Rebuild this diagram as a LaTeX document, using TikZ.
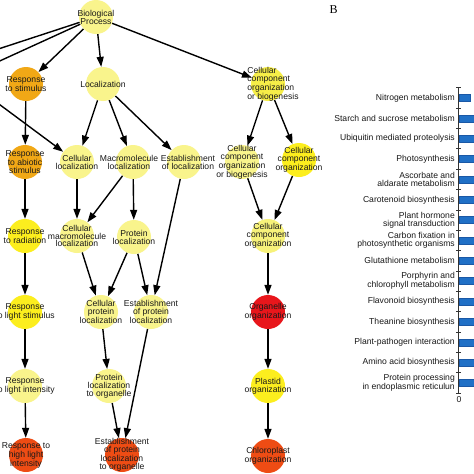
\documentclass[tikz,border=0pt]{standalone}
\usepackage{fontspec}
\setmainfont{Liberation Sans}
\newfontfamily\serifB{Liberation Serif}
\usetikzlibrary{arrows.meta}
\definecolor{pale}{HTML}{F9F48C}
\definecolor{bright}{HTML}{FCEE1E}
\definecolor{midy}{HTML}{F6EE48}
\definecolor{paley}{HTML}{F7F27A}
\definecolor{orng}{HTML}{F1A816}
\definecolor{redn}{HTML}{E8161B}
\definecolor{redor}{HTML}{EE4C14}
\definecolor{barblue}{HTML}{2070C6}
\definecolor{bardark}{HTML}{1A58A6}
\pgfdeclarelayer{back}
\pgfdeclarelayer{bg}
\pgfsetlayers{back,bg,main}
\begin{document}
\begin{tikzpicture}[x=1pt,y=-1pt,
  go/.style={circle,minimum size=34pt,inner sep=0pt,draw=none},
  lbl/.style={font=\fontsize{8.6}{7.9}\selectfont,align=center,text=black!90,inner sep=0pt},
  edge/.style={-{Triangle[length=10pt,width=7pt]},line width=1.4pt,black},
  cat/.style={font=\fontsize{8.6}{7.6}\selectfont,align=right,anchor=east,text=black!90,inner sep=0pt},
  bar/.style={fill=barblue,draw=bardark,line width=0.6pt},
  axisline/.style={line width=0.8pt,black!80}]
\useasboundingbox (0,0) rectangle (474,474);
\begin{pgfonlayer}{back}
\fill[white] (0,0) rectangle (474,474);
\end{pgfonlayer}

% ---- panel A: GO graph ----
\node[go,fill=pale,label={[lbl]center:{Biological\\Process}}] (bp) at (96,17) {};
\node[go,fill=orng,label={[lbl]center:{Response\\to stimulus}}] (rs) at (26,84) {};
\node[go,fill=pale,label={[lbl]center:{Localization}}] (loc) at (103,84) {};
\node[go,fill=midy,label={[lbl,align=left,xshift=5pt]center:{Cellular\\component\\organization\\or biogenesis}}] (ccoba) at (268,84) {};

\node[go,fill=orng,label={[lbl]center:{Response\\to abiotic\\stimulus}}] (ras) at (25,162) {};
\node[go,fill=pale,label={[lbl]center:{Cellular\\localization}}] (cl) at (77,162) {};
\node[go,fill=pale,label={[lbl,xshift=-4pt]center:{Macromolecule\\localization}}] (ml) at (133,162) {};
\node[go,fill=pale,label={[lbl,xshift=4pt]center:{Establishment\\of localization}}] (el) at (184,162) {};
\node[go,fill=pale,label={[lbl]center:{Cellular\\component\\organization\\or biogenesis}}] (ccobb) at (242,162) {};
\node[go,fill=bright,label={[lbl]center:{Cellular\\component\\organization}}] (cco) at (299,160) {};

\node[go,fill=bright,label={[lbl]center:{Response\\to radiation}}] (rr) at (25,236) {};
\node[go,fill=pale,label={[lbl]center:{Cellular\\macromolecule\\localization}}] (cml) at (77,236) {};
\node[go,fill=pale,label={[lbl]center:{Protein\\localization}}] (pl) at (134,237) {};
\node[go,fill=paley,label={[lbl]center:{Cellular\\component\\organization}}] (ccoc) at (268,236) {};

\node[go,fill=bright,label={[lbl]center:{Response\\to light stimulus}}] (rls) at (25,312) {};
\node[go,fill=pale,label={[lbl]center:{Cellular\\protein\\localization}}] (cpl) at (101,312) {};
\node[go,fill=pale,label={[lbl]center:{Establishment\\of protein\\localization}}] (epl) at (151,312) {};
\node[go,fill=redn,label={[lbl]center:{Organelle\\organization}}] (oo) at (268,312) {};

\node[go,fill=pale,label={[lbl]center:{Response\\to light intensity}}] (rli) at (25,386) {};
\node[go,fill=pale,label={[lbl]center:{Protein\\localization\\to organelle}}] (plo) at (109,386) {};
\node[go,fill=bright,label={[lbl]center:{Plastid\\organization}}] (po) at (268,386) {};

\node[go,fill=redor,label={[lbl]center:{Response to\\high light\\intensity}}] (rhli) at (26,455) {};
\node[go,fill=redor,label={[lbl]center:{Establishment\\of protein\\localization\\to organelle}}] (eplo) at (122,455) {};
\node[go,fill=redor,label={[lbl]center:{Chloroplast\\organization}}] (co) at (268,456) {};

\coordinate (offa) at (-20,55);
\coordinate (offb) at (-20,70);
\coordinate (offc) at (-20,90);

\begin{pgfonlayer}{bg}
\draw[edge] (bp) -- (offa);
\draw[edge] (bp) -- (offb);
\draw[edge] (offc) -- (cl);
\draw[edge] (bp) -- (rs);
\draw[edge] (bp) -- (loc);
\draw[edge] (bp) -- (ccoba);
\draw[edge] (loc) -- (cl);
\draw[edge] (loc) -- (ml);
\draw[edge] (loc) -- (el);
\draw[edge] (rs) -- (ras);
\draw[edge] (ras) -- (rr);
\draw[edge] (rr) -- (rls);
\draw[edge] (rls) -- (rli);
\draw[edge] (rli) -- (rhli);
\draw[edge] (cl) -- (cml);
\draw[edge] (ml) -- (cml);
\draw[edge] (ml) -- (pl);
\draw[edge] (el) -- (epl);
\draw[edge] (cml) -- (cpl);
\draw[edge] (pl) -- (cpl);
\draw[edge] (pl) -- (epl);
\draw[edge] (cpl) -- (plo);
\draw[edge] (epl) -- (eplo);
\draw[edge] (plo) -- (eplo);
\draw[edge] (ccoba) -- (ccobb);
\draw[edge] (ccoba) -- (cco);
\draw[edge] (ccobb) -- (ccoc);
\draw[edge] (cco) -- (ccoc);
\draw[edge] (ccoc) -- (oo);
\draw[edge] (oo) -- (po);
\draw[edge] (po) -- (co);
\end{pgfonlayer}

% ---- panel B: bar chart ----
\node[font=\serifB\fontsize{12}{12}\selectfont,inner sep=0pt] (blabel) at (333.5,9.5) {B};

\draw[axisline] (458.5,87.5) coordinate (axtop) -- (458.5,392.5) coordinate (axbot);
\foreach \k in {0,...,15} {
  \draw[axisline] (456,87.8+20.36*\k) -- (461,87.8+20.36*\k);
}
\node[font=\fontsize{8.6}{8.6}\selectfont,inner sep=0pt,text=black!90] (zero) at (459,400) {0};

\foreach \k/\t in {0/{Nitrogen metabolism},
  1/{Starch and sucrose metabolism},
  2/{Ubiquitin mediated proteolysis},
  3/{Photosynthesis},
  4/{Ascorbate and\\aldarate metabolism},
  5/{Carotenoid biosynthesis},
  6/{Plant hormone\\signal transduction},
  7/{Carbon fixation in\\photosynthetic organisms},
  8/{Glutathione metabolism},
  9/{Porphyrin and\\chlorophyll metabolism},
  10/{Flavonoid biosynthesis},
  11/{Theanine biosynthesis},
  12/{Plant-pathogen interaction},
  13/{Amino acid biosynthesis},
  14/{Protein processing\\in endoplasmic reticulun}} {
  \node[cat] (c\k) at (455,98+20.36*\k) {\t};
}
\draw[bar] (459,94.5) rectangle (470,101.5);
\foreach \k in {1,...,14} {
  \draw[bar] (459,94.5+20.36*\k) rectangle (480,101.5+20.36*\k);
}
\end{tikzpicture}
\end{document}
